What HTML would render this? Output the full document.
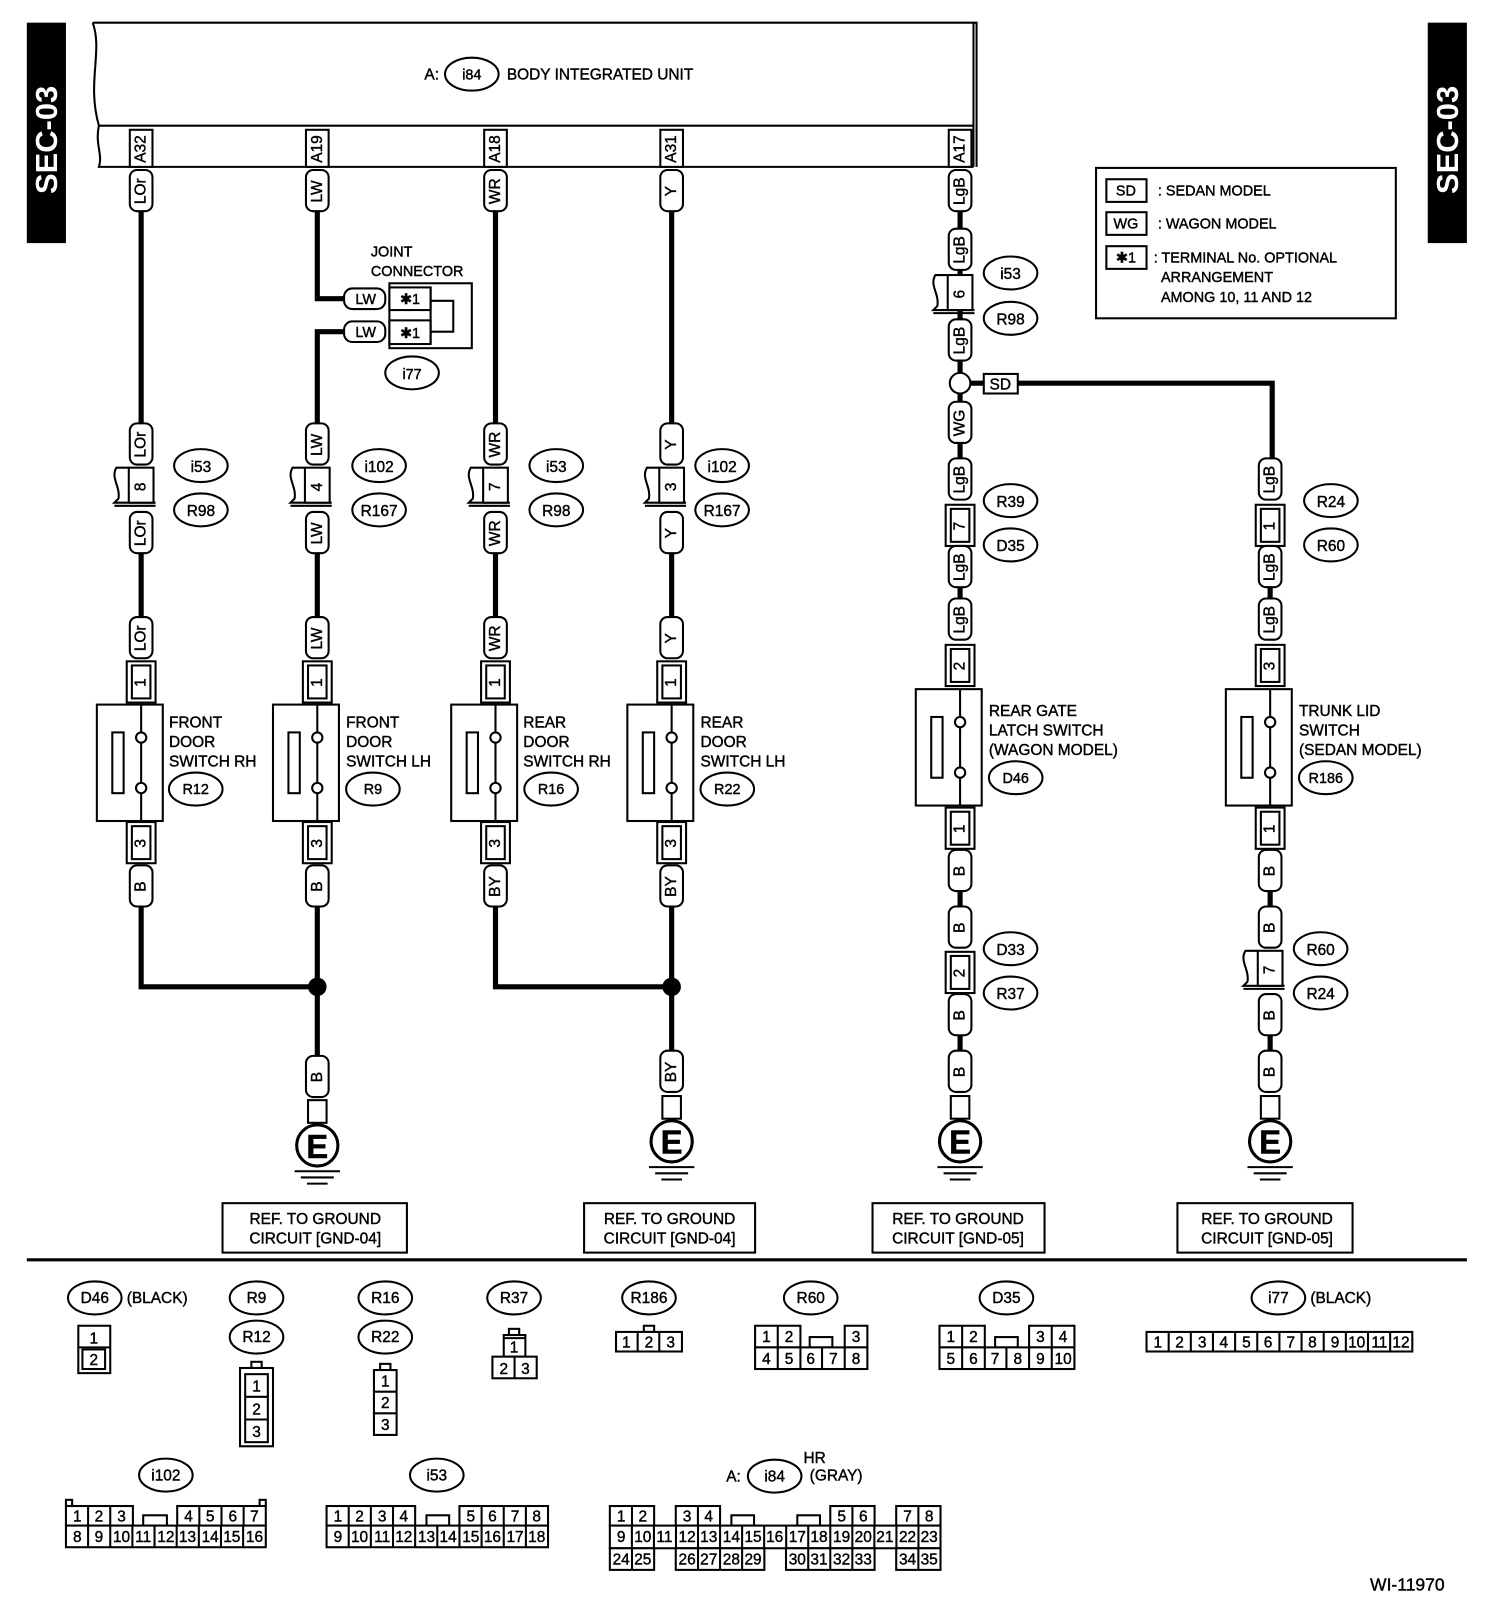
<!DOCTYPE html>
<html><head><meta charset="utf-8"><style>
html,body{margin:0;padding:0;background:#fff}
svg{display:block}
text{font-family:"Liberation Sans",Arial,sans-serif;font-size:15px;fill:#000;stroke:#000;stroke-width:.4}
.v{transform-box:fill-box;transform-origin:center;transform:rotate(-90deg)}
.c{text-anchor:middle}
.s{font-size:14px}
.w{fill:#fff;stroke:none;font-weight:bold;font-size:30px}
.o{fill:#fff;stroke:#000;stroke-width:2}
.l{fill:none;stroke:#000;stroke-width:2}
.wr{fill:none;stroke:#000;stroke-width:5}
</style></head><body>
<svg width="1504" height="1608" viewBox="0 0 1460 1561" xmlns="http://www.w3.org/2000/svg">
<defs>
<rect id="pl" x="-11" y="-20" width="22" height="40" rx="7" class="o"/>
<g id="tb"><rect x="-14" y="-20" width="28" height="40" class="o"/><rect x="-9" y="-16" width="18" height="32" class="o"/></g>
<g id="fl"><path d="M-12,-18 L-24,-18 C-30,-8 -20,0 -22,12 L-26,16 L14,16" class="l"/><rect x="-12" y="-18" width="24" height="34" class="o"/><line x1="-26" y1="19" x2="14" y2="19" class="l"/></g>
<ellipse id="ov" rx="26" ry="16" class="o"/>
<g id="gnd"><rect x="-9" y="-44" width="18" height="22" class="o"/><circle r="20" fill="#fff" stroke="#000" stroke-width="3"/><line x1="-22" y1="25" x2="22" y2="25" class="l"/><line x1="-16" y1="31" x2="16" y2="31" class="l"/><line x1="-10" y1="37" x2="10" y2="37" class="l"/></g>
</defs>

<rect x="26" y="22" width="38" height="214" fill="#000"/>
<text class="w v c" x="45" y="146">SEC-03</text>
<rect x="1386" y="22" width="38" height="214" fill="#000"/>
<text class="w v c" x="1405" y="146">SEC-03</text>

<path d="M90,22 L948,22 L948,162 M945,22 L945,162" class="l"/>
<path d="M90,22 C100,50 84,80 96,122 L945,122" class="l"/>
<path d="M96,122 C92,140 100,150 96,162 L945,162" class="l"/>
<text x="412" y="77">A:</text>
<ellipse cx="458" cy="72" rx="26" ry="16" class="o"/>
<text class="c s" x="458" y="77">i84</text>
<text x="492" y="77">BODY INTEGRATED UNIT</text>
<g class="s">
<rect x="126" y="126" width="22" height="36" class="o"/><text class="v c" x="137" y="149">A32</text>
<rect x="297" y="126" width="22" height="36" class="o"/><text class="v c" x="308" y="149">A19</text>
<rect x="470" y="126" width="22" height="36" class="o"/><text class="v c" x="481" y="149">A18</text>
<rect x="641" y="126" width="22" height="36" class="o"/><text class="v c" x="652" y="149">A31</text>
<rect x="921" y="126" width="22" height="36" class="o"/><text class="v c" x="932" y="149">A17</text>
</g>

<path class="wr" d="M137,205V420 M137,537V600 M137,880V958H308 M308,205V290H343 M373,322H308V420 M308,537V600 M308,880V1046 M481,205V420 M481,537V600 M481,880V958H652 M652,205V420 M652,537V600 M652,880V1020 M932,205V365 M942,372H956 M988,372H1235V445 M932,380V390 M932,430V445 M932,570V580 M932,865V880 M932,1005V1020 M1233,570V580 M1233,865V880 M1233,1005V1020"/>
<circle cx="308" cy="958" r="9"/><circle cx="652" cy="958" r="9"/>

<g class="s">
<use href="#pl" x="137" y="185"/><text class="v c" x="137" y="190">LOr</text>
<use href="#pl" x="137" y="431"/><text class="v c" x="137" y="436">LOr</text>
<use href="#fl" x="137" y="472"/><text class="v c" x="137" y="477">8</text>
<use href="#pl" x="137" y="517"/><text class="v c" x="137" y="522">LOr</text>
<use href="#pl" x="137" y="619"/><text class="v c" x="137" y="624">LOr</text>
<use href="#tb" x="137" y="662"/><text class="v c" x="137" y="667">1</text>
<use href="#tb" x="137" y="818"/><text class="v c" x="137" y="823">3</text>
<use href="#pl" x="137" y="860"/><text class="v c" x="137" y="865">B</text>
<use href="#ov" x="195" y="452"/><text class="c" x="195" y="458">i53</text>
<use href="#ov" x="195" y="495"/><text class="c" x="195" y="501">R98</text>
<use href="#pl" x="308" y="185"/><text class="v c" x="308" y="190">LW</text>
<use href="#pl" x="308" y="431"/><text class="v c" x="308" y="436">LW</text>
<use href="#fl" x="308" y="472"/><text class="v c" x="308" y="477">4</text>
<use href="#pl" x="308" y="517"/><text class="v c" x="308" y="522">LW</text>
<use href="#pl" x="308" y="619"/><text class="v c" x="308" y="624">LW</text>
<use href="#tb" x="308" y="662"/><text class="v c" x="308" y="667">1</text>
<use href="#tb" x="308" y="818"/><text class="v c" x="308" y="823">3</text>
<use href="#pl" x="308" y="860"/><text class="v c" x="308" y="865">B</text>
<use href="#pl" x="308" y="1045"/><text class="v c" x="308" y="1050">B</text>
<use href="#ov" x="368" y="452"/><text class="c" x="368" y="458">i102</text>
<use href="#ov" x="368" y="495"/><text class="c" x="368" y="501">R167</text>
<use href="#pl" x="481" y="185"/><text class="v c" x="481" y="190">WR</text>
<use href="#pl" x="481" y="431"/><text class="v c" x="481" y="436">WR</text>
<use href="#fl" x="481" y="472"/><text class="v c" x="481" y="477">7</text>
<use href="#pl" x="481" y="517"/><text class="v c" x="481" y="522">WR</text>
<use href="#pl" x="481" y="619"/><text class="v c" x="481" y="624">WR</text>
<use href="#tb" x="481" y="662"/><text class="v c" x="481" y="667">1</text>
<use href="#tb" x="481" y="818"/><text class="v c" x="481" y="823">3</text>
<use href="#pl" x="481" y="860"/><text class="v c" x="481" y="865">BY</text>
<use href="#ov" x="540" y="452"/><text class="c" x="540" y="458">i53</text>
<use href="#ov" x="540" y="495"/><text class="c" x="540" y="501">R98</text>
<use href="#pl" x="652" y="185"/><text class="v c" x="652" y="190">Y</text>
<use href="#pl" x="652" y="431"/><text class="v c" x="652" y="436">Y</text>
<use href="#fl" x="652" y="472"/><text class="v c" x="652" y="477">3</text>
<use href="#pl" x="652" y="517"/><text class="v c" x="652" y="522">Y</text>
<use href="#pl" x="652" y="619"/><text class="v c" x="652" y="624">Y</text>
<use href="#tb" x="652" y="662"/><text class="v c" x="652" y="667">1</text>
<use href="#tb" x="652" y="818"/><text class="v c" x="652" y="823">3</text>
<use href="#pl" x="652" y="860"/><text class="v c" x="652" y="865">BY</text>
<use href="#pl" x="652" y="1040"/><text class="v c" x="652" y="1045">BY</text>
<use href="#ov" x="701" y="452"/><text class="c" x="701" y="458">i102</text>
<use href="#ov" x="701" y="495"/><text class="c" x="701" y="501">R167</text>
<use href="#pl" x="932" y="185"/><text class="v c" x="932" y="190">LgB</text>
<use href="#pl" x="932" y="242"/><text class="v c" x="932" y="247">LgB</text>
<use href="#fl" x="932" y="285"/><text class="v c" x="932" y="290">6</text>
<use href="#pl" x="932" y="330"/><text class="v c" x="932" y="335">LgB</text>
<use href="#pl" x="932" y="410"/><text class="v c" x="932" y="415">WG</text>
<use href="#pl" x="932" y="465"/><text class="v c" x="932" y="470">LgB</text>
<use href="#tb" x="932" y="510"/><text class="v c" x="932" y="515">7</text>
<use href="#pl" x="932" y="550"/><text class="v c" x="932" y="555">LgB</text>
<use href="#pl" x="932" y="601"/><text class="v c" x="932" y="606">LgB</text>
<use href="#tb" x="932" y="646"/><text class="v c" x="932" y="651">2</text>
<use href="#tb" x="932" y="804"/><text class="v c" x="932" y="809">1</text>
<use href="#pl" x="932" y="845"/><text class="v c" x="932" y="850">B</text>
<use href="#pl" x="932" y="900"/><text class="v c" x="932" y="905">B</text>
<use href="#tb" x="932" y="944"/><text class="v c" x="932" y="949">2</text>
<use href="#pl" x="932" y="985"/><text class="v c" x="932" y="990">B</text>
<use href="#pl" x="932" y="1040"/><text class="v c" x="932" y="1045">B</text>
<use href="#ov" x="981" y="265"/><text class="c" x="981" y="271">i53</text>
<use href="#ov" x="981" y="309"/><text class="c" x="981" y="315">R98</text>
<use href="#ov" x="981" y="486"/><text class="c" x="981" y="492">R39</text>
<use href="#ov" x="981" y="529"/><text class="c" x="981" y="535">D35</text>
<use href="#ov" x="981" y="921"/><text class="c" x="981" y="927">D33</text>
<use href="#ov" x="981" y="964"/><text class="c" x="981" y="970">R37</text>
<circle cx="932" cy="372" r="10" class="o"/>
<rect x="955" y="363" width="33" height="19" class="o"/><text class="c" x="971" y="378">SD</text>
<use href="#pl" x="1233" y="465"/><text class="v c" x="1233" y="470">LgB</text>
<use href="#tb" x="1233" y="510"/><text class="v c" x="1233" y="515">1</text>
<use href="#pl" x="1233" y="550"/><text class="v c" x="1233" y="555">LgB</text>
<use href="#pl" x="1233" y="601"/><text class="v c" x="1233" y="606">LgB</text>
<use href="#tb" x="1233" y="646"/><text class="v c" x="1233" y="651">3</text>
<use href="#tb" x="1233" y="804"/><text class="v c" x="1233" y="809">1</text>
<use href="#pl" x="1233" y="845"/><text class="v c" x="1233" y="850">B</text>
<use href="#pl" x="1233" y="900"/><text class="v c" x="1233" y="905">B</text>
<use href="#fl" x="1233" y="941"/><text class="v c" x="1233" y="946">7</text>
<use href="#pl" x="1233" y="985"/><text class="v c" x="1233" y="990">B</text>
<use href="#pl" x="1233" y="1040"/><text class="v c" x="1233" y="1045">B</text>
<use href="#ov" x="1292" y="486"/><text class="c" x="1292" y="492">R24</text>
<use href="#ov" x="1292" y="529"/><text class="c" x="1292" y="535">R60</text>
<use href="#ov" x="1282" y="921"/><text class="c" x="1282" y="927">R60</text>
<use href="#ov" x="1282" y="964"/><text class="c" x="1282" y="970">R24</text>
</g>

<text x="360" y="249" class="s">JOINT</text>
<text x="360" y="268" class="s">CONNECTOR</text>
<rect x="334" y="280" width="40" height="20" rx="8" class="o"/><text class="c s" x="355" y="295">LW</text>
<rect x="334" y="312" width="40" height="20" rx="8" class="o"/><text class="c s" x="355" y="327">LW</text>
<rect x="378" y="275" width="80" height="63" class="o"/>
<rect x="378" y="279" width="40" height="22" class="o"/><rect x="378" y="311" width="40" height="23" class="o"/>
<path d="M418,279V334 M418,292H440V322H418" class="l"/>
<text class="c s" x="398" y="295">✱1</text><text class="c s" x="398" y="328">✱1</text>
<ellipse cx="400" cy="362" rx="26" ry="16" class="o"/><text class="c s" x="400" y="368">i77</text>

<g id="sw1">
<rect x="94" y="684" width="64" height="113" class="o"/>
<rect x="109" y="711" width="11" height="59" class="o"/>
<path d="M137,684V711 M137,721V760 M137,770V797" class="l"/>
<circle cx="137" cy="716" r="5" class="o"/><circle cx="137" cy="765" r="5" class="o"/>
</g>
<use href="#sw1" x="171"/><use href="#sw1" x="344"/><use href="#sw1" x="515"/>
<use href="#sw1" x="795" y="-15"/><use href="#sw1" x="1096" y="-15"/>

<text x="164" y="706">FRONT</text><text x="164" y="725">DOOR</text><text x="164" y="744">SWITCH RH</text>
<use href="#ov" x="190" y="766"/><text class="c s" x="190" y="771">R12</text>
<text x="336" y="706">FRONT</text><text x="336" y="725">DOOR</text><text x="336" y="744">SWITCH LH</text>
<use href="#ov" x="362" y="766"/><text class="c s" x="362" y="771">R9</text>
<text x="508" y="706">REAR</text><text x="508" y="725">DOOR</text><text x="508" y="744">SWITCH RH</text>
<use href="#ov" x="535" y="766"/><text class="c s" x="535" y="771">R16</text>
<text x="680" y="706">REAR</text><text x="680" y="725">DOOR</text><text x="680" y="744">SWITCH LH</text>
<use href="#ov" x="706" y="766"/><text class="c s" x="706" y="771">R22</text>
<text x="960" y="695">REAR GATE</text><text x="960" y="714">LATCH SWITCH</text><text x="960" y="733">(WAGON MODEL)</text>
<use href="#ov" x="986" y="755"/><text class="c s" x="986" y="760">D46</text>
<text x="1261" y="695">TRUNK LID</text><text x="1261" y="714">SWITCH</text><text x="1261" y="733">(SEDAN MODEL)</text>
<use href="#ov" x="1287" y="755"/><text class="c s" x="1287" y="760">R186</text>

<use href="#gnd" x="308" y="1112"/><text class="c" x="308" y="1124" style="font-size:32px;font-weight:bold">E</text>
<use href="#gnd" x="652" y="1108"/><text class="c" x="652" y="1120" style="font-size:32px;font-weight:bold">E</text>
<use href="#gnd" x="932" y="1108"/><text class="c" x="932" y="1120" style="font-size:32px;font-weight:bold">E</text>
<use href="#gnd" x="1233" y="1108"/><text class="c" x="1233" y="1120" style="font-size:32px;font-weight:bold">E</text>

<rect x="216" y="1168" width="179" height="48" class="o"/><text class="c" x="306" y="1188">REF. TO GROUND</text><text class="c" x="306" y="1207">CIRCUIT [GND-04]</text>
<rect x="567" y="1168" width="166" height="48" class="o"/><text class="c" x="650" y="1188">REF. TO GROUND</text><text class="c" x="650" y="1207">CIRCUIT [GND-04]</text>
<rect x="847" y="1168" width="167" height="48" class="o"/><text class="c" x="930" y="1188">REF. TO GROUND</text><text class="c" x="930" y="1207">CIRCUIT [GND-05]</text>
<rect x="1143" y="1168" width="170" height="48" class="o"/><text class="c" x="1230" y="1188">REF. TO GROUND</text><text class="c" x="1230" y="1207">CIRCUIT [GND-05]</text>

<rect x="1064" y="163" width="291" height="146" class="o"/>
<rect x="1074" y="174" width="39" height="22" class="o"/><text class="c s" x="1093" y="190">SD</text><text class="s" x="1124" y="190">: SEDAN MODEL</text>
<rect x="1074" y="206" width="39" height="22" class="o"/><text class="c s" x="1093" y="222">WG</text><text class="s" x="1124" y="222">: WAGON MODEL</text>
<rect x="1074" y="239" width="39" height="22" class="o"/><text class="c s" x="1093" y="255">✱1</text><text class="s" x="1120" y="255">: TERMINAL No. OPTIONAL</text>
<text class="s" x="1127" y="274">ARRANGEMENT</text><text class="s" x="1127" y="293">AMONG 10, 11 AND 12</text>

<line x1="26" y1="1223" x2="1424" y2="1223" stroke="#000" stroke-width="3"/>

<g class="s">
<use href="#ov" x="92" y="1260"/><text class="c" x="92" y="1265">D46</text><text x="123" y="1265">(BLACK)</text>
<rect x="76" y="1287" width="31" height="46" class="o"/><line x1="76" y1="1308" x2="107" y2="1308" class="l"/><rect x="80" y="1310" width="22" height="19" class="o"/>
<text class="c" x="91" y="1304">1</text><text class="c" x="91" y="1325">2</text>

<use href="#ov" x="249" y="1260"/><text class="c" x="249" y="1265">R9</text>
<use href="#ov" x="249" y="1298"/><text class="c" x="249" y="1303">R12</text>
<rect x="244" y="1322" width="10" height="6" class="o"/>
<rect x="233" y="1328" width="32" height="76" class="o"/>
<rect x="238" y="1334" width="22" height="66" class="o"/><path d="M238,1356H260 M238,1378H260" class="l"/>
<text class="c" x="249" y="1351">1</text><text class="c" x="249" y="1373">2</text><text class="c" x="249" y="1395">3</text>

<use href="#ov" x="374" y="1260"/><text class="c" x="374" y="1265">R16</text>
<use href="#ov" x="374" y="1298"/><text class="c" x="374" y="1303">R22</text>
<rect x="369" y="1324" width="10" height="6" class="o"/>
<rect x="363" y="1330" width="22" height="63" class="o"/><path d="M363,1351H385 M363,1372H385" class="l"/>
<text class="c" x="374" y="1346">1</text><text class="c" x="374" y="1367">2</text><text class="c" x="374" y="1388">3</text>

<use href="#ov" x="499" y="1260"/><text class="c" x="499" y="1265">R37</text>
<rect x="494" y="1290" width="10" height="6" class="o"/>
<rect x="489" y="1296" width="21" height="21" class="o"/><line x1="489" y1="1299" x2="510" y2="1299" class="l"/>
<rect x="478" y="1317" width="43" height="21" class="o"/><line x1="499.5" y1="1317" x2="499.5" y2="1338" class="l"/>
<text class="c" x="499" y="1313">1</text><text class="c" x="489" y="1334">2</text><text class="c" x="510" y="1334">3</text>

<use href="#ov" x="630" y="1260"/><text class="c" x="630" y="1265">R186</text>
<rect x="625" y="1287" width="10" height="6" class="o"/>
<rect x="598" y="1293" width="64" height="19" class="o"/><path d="M619,1293V1312 M640,1293V1312" class="l"/>
<text class="c" x="608" y="1308">1</text><text class="c" x="630" y="1308">2</text><text class="c" x="651" y="1308">3</text>

<use href="#ov" x="787" y="1260"/><text class="c" x="787" y="1265">R60</text>
<rect x="733" y="1287" width="44" height="21" class="o"/><line x1="755" y1="1287" x2="755" y2="1308" class="l"/>
<rect x="786" y="1298" width="22" height="10" class="o"/>
<rect x="820" y="1287" width="22" height="21" class="o"/>
<rect x="733" y="1308" width="109" height="21" class="o"/><path d="M755,1308V1329 M777,1308V1329 M798,1308V1329 M820,1308V1329" class="l"/>
<text class="c" x="744" y="1303">1</text><text class="c" x="766" y="1303">2</text><text class="c" x="831" y="1303">3</text>
<text class="c" x="744" y="1324">4</text><text class="c" x="766" y="1324">5</text><text class="c" x="787" y="1324">6</text><text class="c" x="809" y="1324">7</text><text class="c" x="831" y="1324">8</text>

<use href="#ov" x="977" y="1260"/><text class="c" x="977" y="1265">D35</text>
<rect x="912" y="1287" width="44" height="21" class="o"/><line x1="934" y1="1287" x2="934" y2="1308" class="l"/>
<rect x="966" y="1298" width="22" height="10" class="o"/>
<rect x="999" y="1287" width="44" height="21" class="o"/><line x1="1021" y1="1287" x2="1021" y2="1308" class="l"/>
<rect x="912" y="1308" width="131" height="21" class="o"/><path d="M934,1308V1329 M956,1308V1329 M977,1308V1329 M999,1308V1329 M1021,1308V1329" class="l"/>
<text class="c" x="923" y="1303">1</text><text class="c" x="945" y="1303">2</text><text class="c" x="1010" y="1303">3</text><text class="c" x="1032" y="1303">4</text>
<text class="c" x="923" y="1324">5</text><text class="c" x="945" y="1324">6</text><text class="c" x="966" y="1324">7</text><text class="c" x="988" y="1324">8</text><text class="c" x="1010" y="1324">9</text><text class="c" x="1032" y="1324">10</text>

<use href="#ov" x="1241" y="1260"/><text class="c" x="1241" y="1265">i77</text><text x="1272" y="1265">(BLACK)</text>
<rect x="1113" y="1293" width="258" height="19" class="o"/>
<path d="M1134.5,1293v19 M1156,1293v19 M1177.5,1293v19 M1199,1293v19 M1220.5,1293v19 M1242,1293v19 M1263.5,1293v19 M1285,1293v19 M1306.5,1293v19 M1328,1293v19 M1349.5,1293v19" class="l"/>
<text class="c" x="1124" y="1308">1</text><text class="c" x="1145" y="1308">2</text><text class="c" x="1167" y="1308">3</text><text class="c" x="1188" y="1308">4</text><text class="c" x="1210" y="1308">5</text><text class="c" x="1231" y="1308">6</text><text class="c" x="1253" y="1308">7</text><text class="c" x="1274" y="1308">8</text><text class="c" x="1296" y="1308">9</text><text class="c" x="1317" y="1308">10</text><text class="c" x="1339" y="1308">11</text><text class="c" x="1360" y="1308">12</text>

<use href="#ov" x="161" y="1432"/><text class="c" x="161" y="1437">i102</text>
<rect x="64" y="1456" width="6" height="6" class="o"/><rect x="252" y="1456" width="6" height="6" class="o"/>
<rect x="64" y="1462" width="65" height="19" class="o"/><path d="M85.5,1462v19 M107,1462v19" class="l"/>
<rect x="139" y="1471" width="23" height="10" class="o"/>
<rect x="172" y="1462" width="86" height="19" class="o"/><path d="M193.5,1462v19 M215,1462v19 M236.5,1462v19" class="l"/>
<rect x="64" y="1481" width="194" height="21" class="o"/><path d="M85.5,1481v21 M107,1481v21 M128.5,1481v21 M150,1481v21 M171.5,1481v21 M193,1481v21 M214.5,1481v21 M236,1481v21" class="l"/>
<text class="c" x="75" y="1477">1</text><text class="c" x="96" y="1477">2</text><text class="c" x="118" y="1477">3</text><text class="c" x="183" y="1477">4</text><text class="c" x="204" y="1477">5</text><text class="c" x="226" y="1477">6</text><text class="c" x="247" y="1477">7</text>
<text class="c" x="75" y="1497">8</text><text class="c" x="96" y="1497">9</text><text class="c" x="118" y="1497">10</text><text class="c" x="139" y="1497">11</text><text class="c" x="161" y="1497">12</text><text class="c" x="182" y="1497">13</text><text class="c" x="204" y="1497">14</text><text class="c" x="225" y="1497">15</text><text class="c" x="247" y="1497">16</text>

<use href="#ov" x="424" y="1432"/><text class="c" x="424" y="1437">i53</text>
<rect x="317" y="1462" width="86" height="19" class="o"/><path d="M338.5,1462v19 M360,1462v19 M381.5,1462v19" class="l"/>
<rect x="414" y="1471" width="22" height="10" class="o"/>
<rect x="446" y="1462" width="86" height="19" class="o"/><path d="M467.5,1462v19 M489,1462v19 M510.5,1462v19" class="l"/>
<rect x="317" y="1481" width="215" height="21" class="o"/><path d="M338.5,1481v21 M360,1481v21 M381.5,1481v21 M403,1481v21 M424.5,1481v21 M446,1481v21 M467.5,1481v21 M489,1481v21 M510.5,1481v21" class="l"/>
<text class="c" x="328" y="1477">1</text><text class="c" x="349" y="1477">2</text><text class="c" x="371" y="1477">3</text><text class="c" x="392" y="1477">4</text><text class="c" x="457" y="1477">5</text><text class="c" x="478" y="1477">6</text><text class="c" x="500" y="1477">7</text><text class="c" x="521" y="1477">8</text>
<text class="c" x="328" y="1497">9</text><text class="c" x="349" y="1497">10</text><text class="c" x="371" y="1497">11</text><text class="c" x="392" y="1497">12</text><text class="c" x="414" y="1497">13</text><text class="c" x="435" y="1497">14</text><text class="c" x="457" y="1497">15</text><text class="c" x="478" y="1497">16</text><text class="c" x="500" y="1497">17</text><text class="c" x="521" y="1497">18</text>

<text x="705" y="1438">A:</text>
<use href="#ov" x="752" y="1433"/><text class="c" x="752" y="1438">i84</text>
<text x="780" y="1420">HR</text><text x="786" y="1437">(GRAY)</text>
<rect x="592" y="1462" width="43" height="19" class="o"/><line x1="613.5" y1="1462" x2="613.5" y2="1481" class="l"/>
<rect x="656" y="1462" width="43" height="19" class="o"/><line x1="677.5" y1="1462" x2="677.5" y2="1481" class="l"/>
<rect x="710" y="1471" width="22" height="10" class="o"/>
<rect x="774" y="1471" width="22" height="10" class="o"/>
<rect x="806" y="1462" width="43" height="19" class="o"/><line x1="827.5" y1="1462" x2="827.5" y2="1481" class="l"/>
<rect x="870" y="1462" width="43" height="19" class="o"/><line x1="891.5" y1="1462" x2="891.5" y2="1481" class="l"/>
<rect x="592" y="1481" width="321" height="22" class="o"/>
<path d="M613.4,1481v22 M634.8,1481v22 M656.2,1481v22 M677.6,1481v22 M699,1481v22 M720.4,1481v22 M741.8,1481v22 M763.2,1481v22 M784.6,1481v22 M806,1481v22 M827.4,1481v22 M848.8,1481v22 M870.2,1481v22 M891.6,1481v22" class="l"/>
<rect x="592" y="1503" width="43" height="21" class="o"/><line x1="613.5" y1="1503" x2="613.5" y2="1524" class="l"/>
<rect x="656" y="1503" width="86" height="21" class="o"/><path d="M677.6,1503v21 M699,1503v21 M720.4,1503v21" class="l"/>
<rect x="763" y="1503" width="86" height="21" class="o"/><path d="M784.6,1503v21 M806,1503v21 M827.4,1503v21" class="l"/>
<rect x="870" y="1503" width="43" height="21" class="o"/><line x1="891.5" y1="1503" x2="891.5" y2="1524" class="l"/>
<text class="c" x="603" y="1477">1</text><text class="c" x="624" y="1477">2</text><text class="c" x="667" y="1477">3</text><text class="c" x="688" y="1477">4</text><text class="c" x="817" y="1477">5</text><text class="c" x="838" y="1477">6</text><text class="c" x="881" y="1477">7</text><text class="c" x="902" y="1477">8</text>
<text class="c" x="603" y="1497">9</text><text class="c" x="624" y="1497">10</text><text class="c" x="645" y="1497">11</text><text class="c" x="667" y="1497">12</text><text class="c" x="688" y="1497">13</text><text class="c" x="710" y="1497">14</text><text class="c" x="731" y="1497">15</text><text class="c" x="752" y="1497">16</text><text class="c" x="774" y="1497">17</text><text class="c" x="795" y="1497">18</text><text class="c" x="817" y="1497">19</text><text class="c" x="838" y="1497">20</text><text class="c" x="859" y="1497">21</text><text class="c" x="881" y="1497">22</text><text class="c" x="902" y="1497">23</text>
<text class="c" x="603" y="1519">24</text><text class="c" x="624" y="1519">25</text><text class="c" x="667" y="1519">26</text><text class="c" x="688" y="1519">27</text><text class="c" x="710" y="1519">28</text><text class="c" x="731" y="1519">29</text><text class="c" x="774" y="1519">30</text><text class="c" x="795" y="1519">31</text><text class="c" x="817" y="1519">32</text><text class="c" x="838" y="1519">33</text><text class="c" x="881" y="1519">34</text><text class="c" x="902" y="1519">35</text>
</g>

<text x="1330" y="1544" style="font-size:17px">WI-11970</text>
</svg>
</body></html>
